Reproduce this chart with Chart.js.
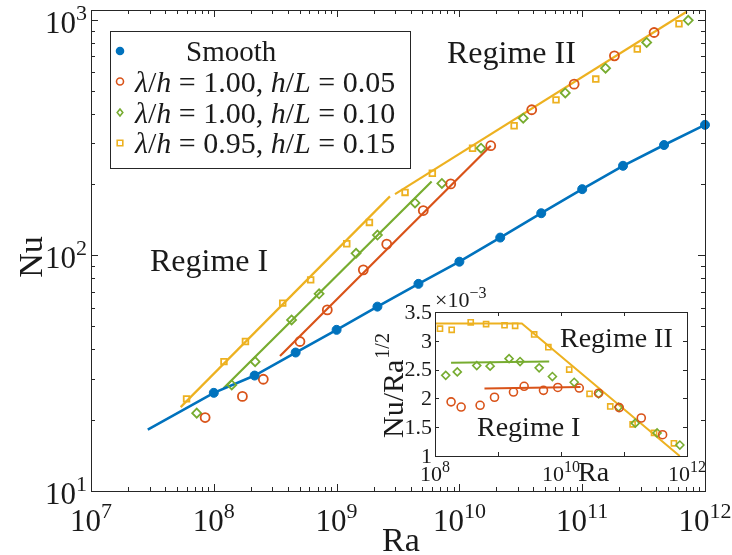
<!DOCTYPE html>
<html>
<head>
<meta charset="utf-8">
<script src="https://cdn.jsdelivr.net/npm/chart.js@4.4.1/dist/chart.umd.min.js"></script>
<style>
  html, body { margin: 0; padding: 0; background: #fff; }
  #wrap { position: relative; width: 732px; height: 555px; }
  canvas { position: absolute; left: 0; top: 0; }
</style>
</head>
<body>
<div id="wrap">
  <canvas id="main" width="732" height="555"></canvas>
  <canvas id="inset" width="732" height="555"></canvas>
</div>
<script>
// main plot: Nu vs Ra
const smoothRa = [1e8, 2.15e8, 4.64e8, 1e9, 2.15e9, 4.64e9, 1e10, 2.15e10, 4.64e10, 1e11, 2.15e11, 4.64e11, 1e12];
const smoothNu = [26.1, 30.9, 38.7, 48.3, 60.6, 75.7, 94, 119, 151, 191, 240, 294, 358];
const smoothLineRa = [2.9e7, 1e8, 2.15e8, 4.64e8, 1e9, 2.15e9, 4.64e9, 1e10, 2.15e10, 4.64e10, 1e11, 2.15e11, 4.64e11, 1e12];
const smoothLineNu = [18.2, 26.1, 30.9, 38.7, 48.3, 60.6, 75.7, 94, 119, 151, 191, 240, 294, 358];

const redRa = [8.5e7, 1.71e8, 2.53e8, 5.03e8, 8.4e8, 1.65e9, 2.56e9, 5.08e9, 8.5e9, 1.8e10, 3.88e10, 8.6e10, 1.83e11, 3.85e11];
const redNu = [20.5, 25.2, 29.8, 43.1, 58.7, 86.8, 111.6, 155, 201, 292, 415, 533, 703, 883];
const redLineRa = [3.46e8, 1.8e10];
const redLineNu = [37.4, 292];

const greenRa = [7.26e7, 1.4e8, 2.17e8, 4.3e8, 7.2e8, 1.44e9, 2.15e9, 4.35e9, 7.2e9, 1.5e10, 3.31e10, 7.28e10, 1.55e11, 3.35e11, 7.3e11];
const greenNu = [21.4, 28.2, 35.4, 53.2, 68.7, 102, 122, 167, 202, 285, 382, 489, 623, 801, 995];
const greenLineRa = [1.2e8, 5.94e9];
const greenLineNu = [27.3, 206];

const yellowRa = [6.0e7, 1.21e8, 1.81e8, 3.64e8, 6.15e8, 1.21e9, 1.85e9, 3.61e9, 6.02e9, 1.28e10, 2.79e10, 6.12e10, 1.29e11, 2.81e11, 6.14e11];
const yellowNu = [24.6, 35.4, 43.1, 62.7, 78.7, 112, 138, 185, 223, 285, 355, 457, 560, 751, 961];
const yellowLine1Ra = [5.37e7, 2.72e9];
const yellowLine1Nu = [22.7, 178];
const yellowLine2Ra = [2.99e9, 7.13e11];
const yellowLine2Nu = [182, 1084];

// inset: Nu/Ra^(1/2) (x1e-3) vs Ra
const insRedRa = [1.8e8, 2.6e8, 5.2e8, 8.8e8, 1.76e9, 2.6e9, 5.27e9, 8.9e9, 1.95e10, 3.95e10, 8.4e10, 1.88e11, 4.1e11];
const insRedVal = [1.94, 1.85, 1.88, 2.02, 2.11, 2.21, 2.14, 2.19, 2.18, 2.09, 1.84, 1.66, 1.37];
const insGreenRa = [1.48e8, 2.26e8, 4.6e8, 7.5e8, 1.5e9, 2.24e9, 4.5e9, 7.3e9, 1.62e10, 3.95e10, 8.2e10, 1.51e11, 3.35e11, 7.7e11];
const insGreenVal = [2.40, 2.46, 2.57, 2.56, 2.69, 2.64, 2.53, 2.38, 2.28, 2.08, 1.85, 1.57, 1.40, 1.19];
const insYellowRa = [1.2e8, 1.84e8, 3.69e8, 6.47e8, 1.27e9, 1.87e9, 3.75e9, 6.3e9, 1.35e10, 2.84e10, 6.05e10, 1.37e11, 3.0e11, 6.2e11];
const insYellowVal = [3.21, 3.19, 3.32, 3.29, 3.27, 3.26, 3.11, 2.89, 2.50, 2.08, 1.86, 1.55, 1.40, 1.22];
const insRedLineRa = [6.1e8, 2.04e10];
const insRedLineVal = [2.17, 2.20];
const insGreenLineRa = [1.8e8, 6.5e9];
const insGreenLineVal = [2.62, 2.64];
const insYellowLineRa = [1e8, 2.39e9, 7.66e11];
const insYellowLineVal = [3.30, 3.30, 1.0];

// ticks and labels
const xTickExp = ['7', '8', '9', '10', '11', '12'];
const yTickExp = ['1', '2', '3'];
const insXTickExp = ['8', '10', '12'];
const insYTicks = [1, 1.5, 2, 2.5, 3, 3.5];
const insYTickLabels = ['1', '1.5', '2', '2.5', '3', '3.5'];
const legendLabels = ['Smooth', 'λ/h = 1.00, h/L = 0.05', 'λ/h = 1.00, h/L = 0.10', 'λ/h = 0.95, h/L = 0.15'];

const blue = '#0072BD', red = '#D95319', yellow = '#EDB120', green = '#77AC30';
const ink = '#262626';
const serif = '"Liberation Serif", "DejaVu Serif", serif';

function pts(xs, ys) {
    return xs.map((x, i) => ({ x: x, y: ys[i] }));
}
function lineSet(xs, ys, color, w) {
    return { data: pts(xs, ys), showLine: true, borderColor: color, borderWidth: w, pointRadius: 0, clip: 0, order: 2 };
}
function markSet(xs, ys, color, style, r, fill, bw) {
    return {
        data: pts(xs, ys), showLine: false, pointStyle: style, pointRadius: r,
        pointBorderColor: color, pointBackgroundColor: fill ? color : 'rgba(0,0,0,0)',
        pointBorderWidth: bw, clip: false, order: 1
    };
}

function font(size, italic) {
    return (italic ? 'italic ' : '') + size + 'px ' + serif;
}

function drawPow(ctx, exp, x, y, big, small, align) {
    ctx.font = font(big);
    const wb = ctx.measureText('10').width;
    ctx.font = font(small);
    const ws = ctx.measureText(exp).width;
    let x0 = x - (wb + ws) / 2;
    if (align === 'right') x0 = x - wb - ws;
    if (align === 'left') x0 = x;
    ctx.textAlign = 'left';
    ctx.textBaseline = 'alphabetic';
    ctx.font = font(big);
    ctx.fillText('10', x0, y);
    ctx.font = font(small);
    ctx.fillText(exp, x0 + wb, y - big * 0.42);
}

// letters in math labels are italic, the rest upright
function drawMath(ctx, str, x, y, size) {
    ctx.textAlign = 'left';
    ctx.textBaseline = 'alphabetic';
    let cx = x;
    for (const ch of str) {
        const it = /[A-Za-zλ]/.test(ch);
        ctx.font = font(size, it);
        ctx.fillText(ch, cx, y);
        cx += ctx.measureText(ch).width;
    }
}

function drawMarker(ctx, style, x, y, r, color, fill) {
    ctx.save();
    ctx.strokeStyle = color;
    ctx.fillStyle = color;
    ctx.lineWidth = 1.6;
    ctx.beginPath();
    if (style === 'circle') ctx.arc(x, y, r, 0, Math.PI * 2);
    else if (style === 'rect') ctx.rect(x - r * 0.8, y - r * 0.8, r * 1.6, r * 1.6);
    else { ctx.moveTo(x, y - r); ctx.lineTo(x + r * 0.8, y); ctx.lineTo(x, y + r); ctx.lineTo(x - r * 0.8, y); ctx.closePath(); }
    if (fill) ctx.fill();
    ctx.stroke();
    ctx.restore();
}

const mainDeco = {
    id: 'mainDeco',
    afterDraw(chart) {
        const ctx = chart.ctx;
        const a = chart.chartArea;
        const xs = chart.scales.x, ys = chart.scales.y;
        ctx.save();
        ctx.strokeStyle = ink;
        ctx.fillStyle = ink;
        ctx.lineWidth = 1;

        // ticks, inward on all four sides
        ctx.beginPath();
        for (let e = 7; e <= 12; e++) {
            for (let m = 1; m <= 9; m++) {
                const v = m * Math.pow(10, e);
                if (v > 1e12) break;
                const px = Math.round(xs.getPixelForValue(v)) + 0.5;
                const len = m === 1 ? 7 : 4;
                ctx.moveTo(px, a.bottom); ctx.lineTo(px, a.bottom - len);
                ctx.moveTo(px, a.top); ctx.lineTo(px, a.top + len);
            }
        }
        for (let e = 1; e <= 3; e++) {
            for (let m = 1; m <= 9; m++) {
                const v = m * Math.pow(10, e);
                if (v > 1100) break;
                const py = Math.round(ys.getPixelForValue(v)) + 0.5;
                const len = m === 1 ? 7 : 4;
                ctx.moveTo(a.left, py); ctx.lineTo(a.left + len, py);
                ctx.moveTo(a.right, py); ctx.lineTo(a.right - len, py);
            }
        }
        ctx.stroke();
        ctx.strokeRect(Math.round(a.left) + 0.5, Math.round(a.top) + 0.5, Math.round(a.right - a.left), Math.round(a.bottom - a.top));

        // tick labels
        ctx.fillStyle = '#1a1a1a';
        xTickExp.forEach(e => {
            drawPow(ctx, e, xs.getPixelForValue(Math.pow(10, +e)), a.bottom + 40, 31, 22, 'center');
        });
        yTickExp.forEach(e => {
            drawPow(ctx, e, a.left - 4, ys.getPixelForValue(Math.pow(10, +e)) + 13, 31, 22, 'right');
        });

        // axis titles
        ctx.font = font(34);
        ctx.textAlign = 'center';
        ctx.textBaseline = 'alphabetic';
        ctx.fillText('Ra', 401, 551);
        ctx.save();
        ctx.translate(42, 257);
        ctx.rotate(-Math.PI / 2);
        ctx.fillText('Nu', 0, 0);
        ctx.restore();

        // regime labels
        ctx.font = font(32);
        ctx.textAlign = 'left';
        ctx.fillText('Regime II', 447, 63);
        ctx.fillText('Regime I', 150, 271);

        // legend
        ctx.fillStyle = '#fff';
        ctx.fillRect(110, 31, 300, 137);
        ctx.strokeStyle = ink;
        ctx.strokeRect(110.5, 31.5, 300, 137);
        const rows = [51, 81.5, 112.5, 143];
        const marks = [['circle', blue, true], ['circle', red, false], ['diamond', green, false], ['rect', yellow, false]];
        legendLabels.forEach((lab, i) => {
            drawMarker(ctx, marks[i][0], 120, rows[i], 3.5, marks[i][1], marks[i][2]);
            ctx.fillStyle = '#1a1a1a';
            if (i === 0) {
                ctx.font = font(29);
                ctx.textAlign = 'left';
                ctx.fillText(lab, 186, rows[i] + 10);
            } else {
                drawMath(ctx, lab, 135, rows[i] + 10, 30);
            }
        });
        ctx.restore();
    }
};

new Chart(document.getElementById('main'), {
    type: 'scatter',
    data: {
        datasets: [
            markSet(smoothRa, smoothNu, blue, 'circle', 4.5, true, 1),
            markSet(redRa, redNu, red, 'circle', 4.5, false, 1.8),
            markSet(greenRa, greenNu, green, 'rectRot', 4.5, false, 1.8),
            markSet(yellowRa, yellowNu, yellow, 'rect', 4, false, 1.8),
            lineSet(smoothLineRa, smoothLineNu, blue, 2.6),
            lineSet(redLineRa, redLineNu, red, 2.2),
            lineSet(greenLineRa, greenLineNu, green, 2.2),
            lineSet(yellowLine1Ra, yellowLine1Nu, yellow, 2.2),
            lineSet(yellowLine2Ra, yellowLine2Nu, yellow, 2.2)
        ]
    },
    options: {
        responsive: false,
        animation: false,
        events: [],
        layout: { padding: { left: 91, right: 27, top: 10, bottom: 64 } },
        scales: {
            x: { type: 'logarithmic', min: 1e7, max: 1e12, display: false },
            y: { type: 'logarithmic', min: 10, max: 1100, display: false }
        },
        plugins: { legend: { display: false }, tooltip: { enabled: false } }
    },
    plugins: [mainDeco]
});

const insetDeco = {
    id: 'insetDeco',
    beforeDatasetsDraw(chart) {
        const ctx = chart.ctx;
        const a = chart.chartArea;
        ctx.save();
        ctx.fillStyle = '#fff';
        ctx.fillRect(a.left, a.top, a.right - a.left, a.bottom - a.top);
        ctx.restore();
    },
    afterDraw(chart) {
        const ctx = chart.ctx;
        const a = chart.chartArea;
        const xs = chart.scales.x, ys = chart.scales.y;
        ctx.save();
        ctx.strokeStyle = ink;
        ctx.lineWidth = 1;
        ctx.beginPath();
        for (let e = 8; e <= 12; e++) {
            const px = Math.round(xs.getPixelForValue(Math.pow(10, e))) + 0.5;
            ctx.moveTo(px, a.bottom); ctx.lineTo(px, a.bottom - 4);
            ctx.moveTo(px, a.top); ctx.lineTo(px, a.top + 4);
        }
        insYTicks.forEach(v => {
            const py = Math.round(ys.getPixelForValue(v)) + 0.5;
            ctx.moveTo(a.left, py); ctx.lineTo(a.left + 4, py);
            ctx.moveTo(a.right, py); ctx.lineTo(a.right - 4, py);
        });
        ctx.stroke();
        ctx.strokeRect(Math.round(a.left) + 0.5, Math.round(a.top) + 0.5, Math.round(a.right - a.left), Math.round(a.bottom - a.top));

        ctx.fillStyle = '#1a1a1a';
        ctx.font = font(22);
        ctx.textAlign = 'right';
        ctx.textBaseline = 'middle';
        insYTicks.forEach((v, i) => {
            ctx.fillText(insYTickLabels[i], a.left - 3, ys.getPixelForValue(v) + 1);
        });
        insXTickExp.forEach(e => {
            drawPow(ctx, e, xs.getPixelForValue(Math.pow(10, +e)), a.bottom + 25, 22, 16, 'center');
        });
        // multiplier above the y axis
        ctx.font = font(22);
        ctx.textAlign = 'left';
        ctx.textBaseline = 'alphabetic';
        ctx.fillText('×', a.left, a.top - 5);
        const wx = ctx.measureText('×').width;
        drawPow(ctx, '−3', a.left + wx, a.top - 5, 22, 16, 'left');

        // titles
        ctx.font = font(28);
        ctx.textAlign = 'left';
        ctx.fillText('Ra', 578, 481);
        ctx.save();
        ctx.translate(403, 438);
        ctx.rotate(-Math.PI / 2);
        ctx.font = font(30);
        ctx.fillText('Nu/Ra', 0, 0);
        const w = ctx.measureText('Nu/Ra').width;
        ctx.font = font(20);
        ctx.fillText('1/2', w + 1, -14);
        ctx.restore();

        ctx.font = font(28);
        ctx.fillText('Regime II', 560, 347);
        ctx.fillText('Regime I', 477, 436);
        ctx.restore();
    }
};

new Chart(document.getElementById('inset'), {
    type: 'scatter',
    data: {
        datasets: [
            markSet(insRedRa, insRedVal, red, 'circle', 4, false, 1.6),
            markSet(insGreenRa, insGreenVal, green, 'rectRot', 4, false, 1.6),
            markSet(insYellowRa, insYellowVal, yellow, 'rect', 3.6, false, 1.6),
            lineSet(insRedLineRa, insRedLineVal, red, 2),
            lineSet(insGreenLineRa, insGreenLineVal, green, 2),
            lineSet(insYellowLineRa, insYellowLineVal, yellow, 2)
        ]
    },
    options: {
        responsive: false,
        animation: false,
        events: [],
        layout: { padding: { left: 435, right: 45, top: 312, bottom: 99 } },
        scales: {
            x: { type: 'logarithmic', min: 1e8, max: 1e12, display: false },
            y: { type: 'linear', min: 1, max: 3.5, display: false }
        },
        plugins: { legend: { display: false }, tooltip: { enabled: false } }
    },
    plugins: [insetDeco]
});
</script>
</body>
</html>
